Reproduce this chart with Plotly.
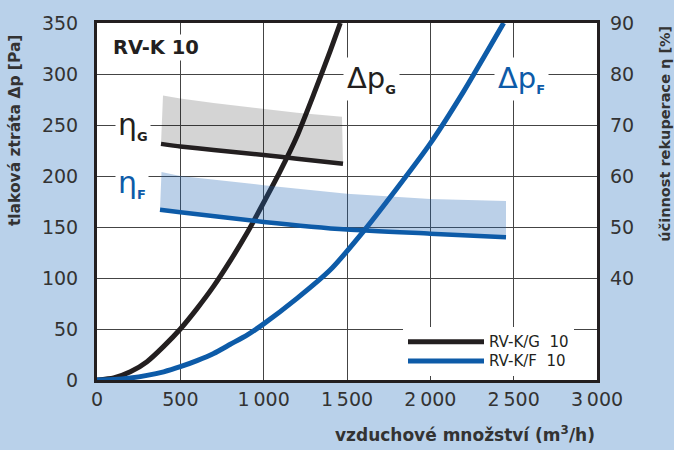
import plotly.graph_objects as go

# ---- data ----
q_G = [0, 100, 200, 300, 400, 500, 600, 700, 800, 900, 1000, 1100, 1200, 1300, 1400, 1460]
dp_G = [0, 2, 8, 18, 33, 50, 70, 92, 117, 144, 174, 205, 239, 280, 323, 350]

q_F = [0, 100, 200, 300, 400, 500, 600, 700, 800, 900, 1000, 1200, 1400, 1600, 1800, 2000, 2200, 2440]
dp_F = [0, 0.5, 2, 4.5, 8, 13, 19, 26, 35, 44, 55, 80, 108, 146, 188, 232, 283, 350]

eta_G_q = [384, 500, 700, 1000, 1200, 1476]
eta_G = [66.3, 65.8, 65.1, 64.1, 63.4, 62.4]
band_G_q = [396, 500, 700, 1000, 1200, 1470]
band_G_hi = [75.8, 75.2, 74.3, 73.2, 72.4, 71.6]

eta_F_q = [378, 500, 1000, 1500, 2000, 2454]
eta_F = [53.4, 52.9, 51.0, 49.5, 48.7, 48.0]
band_F_q = [387, 500, 1000, 1500, 2000, 2454]
band_F_hi = [60.8, 60.0, 58.2, 56.5, 55.5, 55.1]

x_ticks = [0, 500, 1000, 1500, 2000, 2500, 3000]
x_ticktext = ["0", "500", "1\u2009000", "1\u2009500", "2\u2009000", "2\u2009500", "3\u2009000"]
y_ticks = [0, 50, 100, 150, 200, 250, 300, 350]
y2_ticks = [40, 50, 60, 70, 80, 90]

BLACK = "#231f20"
BLUE = "#0d5ba8"
BG = "#b9d1ea"
TXT = "#333333"
GRID = "#444444"
FONT = "DejaVu Sans"

fig = go.Figure()

# bands (efficiency ranges)
fig.add_trace(go.Scatter(
    x=band_G_q + eta_G_q[::-1], y=band_G_hi + eta_G[::-1], yaxis="y2",
    fill="toself", fillcolor="rgba(0,0,0,0.17)", line=dict(width=0),
    mode="lines", showlegend=False, hoverinfo="skip"))
fig.add_trace(go.Scatter(
    x=band_F_q + eta_F_q[::-1], y=band_F_hi + eta_F[::-1], yaxis="y2",
    fill="toself", fillcolor="rgba(30,100,180,0.30)", line=dict(width=0),
    mode="lines", showlegend=False, hoverinfo="skip"))

# efficiency lines
fig.add_trace(go.Scatter(x=eta_G_q, y=eta_G, yaxis="y2", mode="lines",
                         line=dict(color=BLACK, width=4.5, shape="spline", smoothing=0.6),
                         showlegend=False))
fig.add_trace(go.Scatter(x=eta_F_q, y=eta_F, yaxis="y2", mode="lines",
                         line=dict(color=BLUE, width=4.5, shape="spline", smoothing=0.6),
                         showlegend=False))

# pressure drop curves
leg_txt = "<span style='font-size:15px'>%s</span>"
fig.add_trace(go.Scatter(x=q_G, y=dp_G, mode="lines", name=leg_txt % "RV-K/G\u00a0\u00a010",
                         line=dict(color=BLACK, width=5, shape="spline", smoothing=0.6)))
fig.add_trace(go.Scatter(x=q_F, y=dp_F, mode="lines", name=leg_txt % "RV-K/F\u00a0\u00a010",
                         line=dict(color=BLUE, width=5, shape="spline", smoothing=0.6)))

axis_common = dict(showgrid=True, gridcolor=GRID, gridwidth=1, zeroline=False,
                   ticks="", tickfont=dict(family=FONT, size=19, color=TXT))

fig.update_layout(
    width=674, height=450,
    margin=dict(l=97, r=77, t=17, b=70),
    paper_bgcolor=BG, plot_bgcolor="white",
    xaxis=dict(range=[0, 3000], tickvals=x_ticks, ticktext=x_ticktext,
               showline=True, linewidth=3, linecolor=BLACK, mirror=True,
               **axis_common),
    yaxis=dict(range=[0, 350], tickvals=y_ticks,
               showline=True, linewidth=3, linecolor=BLACK, mirror=True,
               ticklabelstandoff=12, **axis_common),
    yaxis2=dict(range=[20, 90], tickvals=y2_ticks, overlaying="y", side="right",
                showgrid=False, zeroline=False, showline=False, ticks="",
                ticklabelstandoff=12,
                tickfont=dict(family=FONT, size=19, color=TXT)),
    legend=dict(x=0.612, xanchor="left", y=0.011, yanchor="bottom",
                bgcolor="white", borderwidth=0, itemwidth=76,
                font=dict(family=FONT, size=12.5, color=BLACK), tracegroupgap=0),
    showlegend=True,
)

sub = lambda s: "<sub><span style='font-size:13px'><b>%s</b></span></sub>" % s

annotations = [
    dict(text="<b>RV-K 10</b>", x=0.118, y=0.931, xref="paper", yref="paper",
         xanchor="center", yanchor="middle",
         showarrow=False, font=dict(family=FONT, size=19.5, color=BLACK), bgcolor="white"),
    dict(text="η" + sub("G"), x=216, y=250, xref="x", yref="y", showarrow=False,
         xanchor="center", yanchor="middle",
         font=dict(family=FONT, size=30, color=BLACK), bgcolor="white", borderpad=2),
    dict(text="η" + sub("F"), x=210, y=193, xref="x", yref="y", showarrow=False,
         xanchor="center", yanchor="middle",
         font=dict(family=FONT, size=30, color=BLUE), bgcolor="white", borderpad=2),
    dict(text="Δp" + sub("G"), x=1644, y=295, xref="x", yref="y", showarrow=False,
         xanchor="center", yanchor="middle",
         font=dict(family=FONT, size=29, color=BLACK), bgcolor="white", borderpad=3),
    dict(text="Δp" + sub("F"), x=2544, y=295, xref="x", yref="y", showarrow=False,
         xanchor="center", yanchor="middle",
         font=dict(family=FONT, size=29, color=BLUE), bgcolor="white", borderpad=3),
    dict(text="<b>tlaková ztráta Δp [Pa]</b>", x=-0.164, y=0.70, xref="paper", yref="paper",
         xanchor="center", yanchor="middle",
         textangle=-90, showarrow=False, font=dict(family=FONT, size=15.5, color=TXT)),
    dict(text="<b>účinnost rekuperace η [%]</b>", x=1.136, y=0.69, xref="paper", yref="paper",
         xanchor="center", yanchor="middle",
         textangle=-90, showarrow=False, font=dict(family=FONT, size=14.5, color=TXT)),
    dict(text="<b>vzduchové množství (m<sup>3</sup>/h)</b>", x=1.0, y=-0.1515,
         xref="paper", yref="paper", xanchor="right", yanchor="middle",
         showarrow=False, font=dict(family=FONT, size=17, color=TXT)),
]
fig.update_layout(annotations=annotations)

fig.write_html("out.html")
